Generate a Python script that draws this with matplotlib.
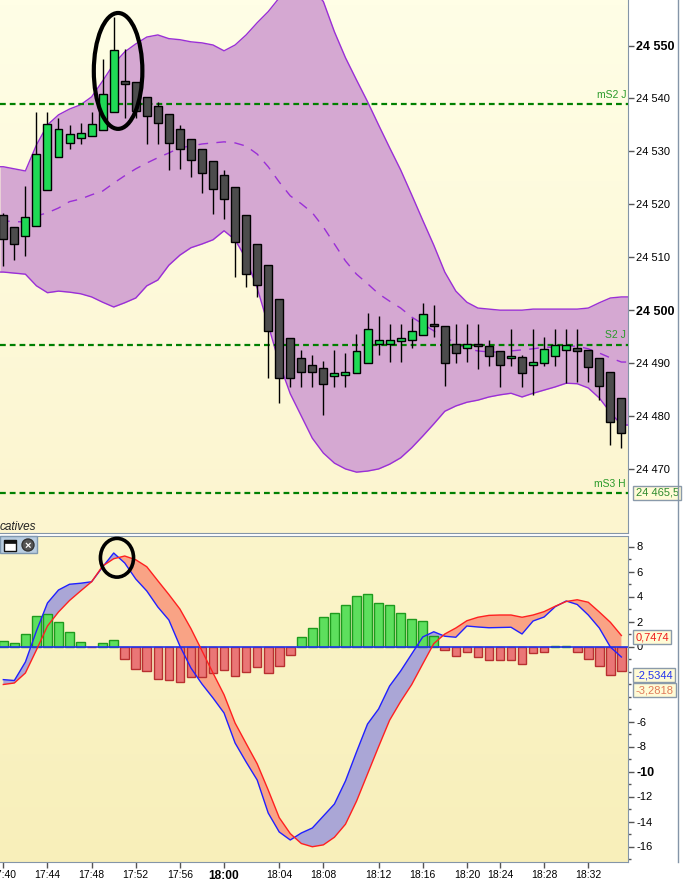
import numpy as np
import matplotlib.pyplot as plt
from matplotlib.patches import Ellipse, Rectangle
from matplotlib.lines import Line2D
from matplotlib.colors import LinearSegmentedColormap

plt.rcParams['font.family'] = ['Liberation Sans', 'DejaVu Sans']
plt.rcParams['axes.unicode_minus'] = False

# Bougies (une par position sur l'axe)
ouverture = [24518.0, 24515.7, 24514.0, 24515.9, 24522.7, 24528.9, 24531.5, 24532.5, 24532.9, 24534.0,
             24537.4, 24543.3, 24543.1, 24540.2, 24538.5, 24537.0, 24534.2, 24532.3, 24530.4, 24528.1,
             24525.5, 24523.2, 24517.9, 24512.5, 24508.5, 24502.2, 24494.7, 24490.9, 24489.6, 24489.0,
             24487.5, 24487.7, 24488.1, 24490.1, 24493.6, 24493.7, 24494.1, 24494.3, 24495.3, 24497.1,
             24497.1, 24493.6, 24492.8, 24493.3, 24493.2, 24492.2, 24490.9, 24491.1, 24489.6, 24490.0,
             24491.3, 24492.4, 24492.8, 24492.4, 24490.9, 24488.3, 24483.5]
haut = [24518.4, 24515.7, 24523.5, 24537.4, 24537.4, 24536.3, 24535.0, 24535.3, 24537.4, 24547.4,
        24555.4, 24549.3, 24543.1, 24540.2, 24539.4, 24537.0, 24535.0, 24532.3, 24530.4, 24528.1,
        24526.5, 24523.2, 24517.9, 24512.5, 24508.5, 24502.2, 24494.7, 24492.4, 24491.5, 24490.4,
        24492.5, 24491.9, 24495.5, 24499.5, 24498.9, 24497.4, 24497.4, 24498.5, 24501.4, 24501.0,
        24497.1, 24497.4, 24497.4, 24497.4, 24494.3, 24492.2, 24496.4, 24491.5, 24496.4, 24494.9,
        24496.4, 24496.4, 24496.4, 24492.4, 24490.9, 24488.3, 24483.5]
bas = [24508.4, 24509.4, 24510.2, 24515.9, 24522.7, 24528.9, 24530.4, 24531.4, 24532.9, 24534.0,
       24537.4, 24536.3, 24536.3, 24531.4, 24531.4, 24526.4, 24526.7, 24525.2, 24522.2, 24518.2,
       24517.3, 24506.3, 24504.3, 24502.4, 24487.2, 24482.4, 24485.4, 24485.4, 24485.4, 24480.2,
       24485.4, 24485.4, 24488.1, 24490.1, 24491.5, 24490.3, 24490.3, 24492.8, 24495.3, 24494.9,
       24485.7, 24490.0, 24490.3, 24488.8, 24489.4, 24485.4, 24489.4, 24485.4, 24483.9, 24489.4,
       24489.4, 24486.2, 24486.4, 24486.4, 24483.0, 24474.5, 24473.9]
cloture = [24513.5, 24512.5, 24517.6, 24529.5, 24535.1, 24534.2, 24533.3, 24533.4, 24535.1, 24540.8,
           24549.1, 24542.7, 24537.6, 24536.7, 24535.3, 24531.5, 24530.4, 24528.3, 24525.9, 24522.9,
           24521.0, 24512.8, 24506.8, 24504.7, 24496.0, 24487.1, 24487.1, 24488.4, 24488.4, 24486.0,
           24488.1, 24488.4, 24492.2, 24496.4, 24494.3, 24494.3, 24494.7, 24496.0, 24499.2, 24497.1,
           24490.0, 24492.0, 24493.7, 24493.3, 24491.3, 24489.6, 24491.3, 24488.1, 24490.3, 24492.6,
           24493.4, 24493.4, 24492.2, 24489.2, 24485.6, 24478.8, 24476.7]

# Bandes de Bollinger
boll_haut = [24527.1, 24526.7, 24526.3, 24531.2, 24535.0, 24536.9, 24538.0, 24538.8, 24540.3, 24543.3,
             24546.5, 24548.8, 24550.3, 24551.6, 24552.0, 24551.3, 24551.1, 24550.7, 24550.5, 24550.1,
             24549.0, 24550.1, 24552.0, 24554.3, 24556.4, 24559.0, 24561.5, 24562.8, 24560.9, 24558.3,
             24552.6, 24547.7, 24543.5, 24539.4, 24535.0, 24530.7, 24526.5, 24521.8, 24517.0, 24512.3,
             24507.2, 24503.6, 24501.5, 24500.4, 24500.2, 24500.0, 24500.0, 24500.0, 24500.2, 24500.2,
             24500.2, 24500.2, 24500.2, 24500.4, 24501.4, 24502.3, 24502.5]
boll_milieu = [24516.9, 24516.7, 24516.7, 24517.8, 24518.4, 24519.3, 24520.5, 24521.0, 24521.8, 24522.5,
               24524.0, 24525.4, 24526.7, 24527.8, 24528.8, 24529.7, 24530.7, 24531.0, 24531.4, 24531.6,
               24531.8, 24531.6, 24531.0, 24529.5, 24527.1, 24524.2, 24521.6, 24520.1, 24518.4, 24515.7,
               24512.5, 24509.3, 24506.8, 24505.0, 24503.1, 24501.7, 24500.4, 24498.7, 24497.4, 24496.1,
               24494.9, 24493.8, 24492.7, 24492.3, 24492.1, 24492.1, 24492.3, 24492.5, 24492.7, 24493.0,
               24493.0, 24493.2, 24493.2, 24492.7, 24491.9, 24491.0, 24490.2]
boll_bas = [24507.2, 24507.0, 24506.8, 24504.6, 24503.3, 24503.6, 24503.4, 24503.1, 24502.5, 24501.5,
            24500.6, 24501.4, 24502.3, 24504.6, 24505.7, 24508.5, 24510.4, 24511.8, 24512.5, 24513.3,
            24515.0, 24513.3, 24509.7, 24504.2, 24497.2, 24490.0, 24484.2, 24480.0, 24475.8, 24473.0,
            24471.1, 24470.0, 24469.4, 24469.6, 24470.0, 24470.9, 24472.1, 24474.0, 24476.2, 24478.5,
            24480.9, 24481.9, 24482.6, 24483.0, 24483.6, 24484.0, 24484.3, 24483.6, 24484.3, 24484.9,
            24485.5, 24486.2, 24486.1, 24485.3, 24483.4, 24480.7, 24478.3]

# MACD, signal et histogramme
macd = [-2.65, -2.72, -1.24, 1.24, 3.48, 4.52, 4.98, 5.06, 5.18, 6.36,
        7.48, 6.68, 5.40, 4.44, 3.16, 2.12, 0.04, -1.72, -3.0, -4.12,
        -5.32, -7.72, -9.24, -10.68, -13.32, -14.84, -15.48, -14.92, -14.52, -13.56,
        -12.6, -10.76, -8.44, -6.2, -5.0, -3.16, -1.96, -0.6, 0.76, 1.18,
        0.82, 0.74, 1.64, 1.56, 1.50, 1.52, 1.54, 1.0, 2.04, 2.36,
        3.18, 3.64, 3.36, 2.52, 1.48, -0.04, -0.84]
signal = [-3.04, -2.92, -2.12, -0.28, 1.64, 2.76, 3.68, 4.44, 5.18, 6.44,
          7.02, 7.24, 6.94, 6.38, 5.26, 4.16, 3.0, 1.43, -0.34, -2.12,
          -3.86, -6.12, -7.76, -9.38, -11.48, -13.69, -14.97, -15.76, -16.02, -15.87,
          -15.26, -14.22, -12.38, -10.2, -8.02, -5.90, -4.4, -3.05, -1.4, 0.23,
          1.0, 1.48, 2.06, 2.34, 2.49, 2.52, 2.52, 2.34, 2.52, 2.79,
          3.22, 3.6, 3.74, 3.54, 2.76, 1.94, 0.88]
histo = [0.48, 0.32, 1.04, 2.45, 2.64, 2.0, 1.2, 0.4, -0.05, 0.32,
         0.56, -0.96, -1.76, -1.92, -2.56, -2.64, -2.8, -2.4, -2.4, -2.08,
         -1.84, -2.32, -2.0, -1.6, -2.08, -1.52, -0.64, 0.8, 1.52, 2.4,
         2.72, 3.36, 4.08, 4.24, 3.52, 3.36, 2.72, 2.24, 2.08, 0.88,
         -0.24, -0.72, -0.4, -0.8, -1.04, -1.04, -1.04, -1.36, -0.48, -0.4,
         0.08, 0.08, -0.4, -0.96, -1.52, -2.24, -1.92]

# Niveaux horizontaux
niveaux_noms = ['mS2 J', 'S2 J', 'mS3 H']
niveaux_prix = [24539.0, 24493.5, 24465.5]

# Axe du temps
pos_heures = [0, 4, 8, 12, 16, 20, 25, 29, 34, 38, 42, 45, 49, 53]
heures = ['17:40', '17:44', '17:48', '17:52', '17:56', '18:00', '18:04', '18:08',
          '18:12', '18:16', '18:20', '18:24', '18:28', '18:32']

# Dernières valeurs affichées à droite de l'indicateur
val_signal = 0.7474
val_macd = -2.5344
val_histo = -3.2818

x = np.arange(len(ouverture))
o = np.array(ouverture)
c = np.array(cloture)
xmin, xmax = -0.3, 56.6

W, H = 683, 883
def fx(p):
    return p / W
def fy(p):
    return 1 - p / H

fig = plt.figure(figsize=(6.83, 8.83), dpi=100)
fig.patch.set_facecolor('white')

ax = fig.add_axes([0, fy(533), fx(628), 533 / H])
ax2 = fig.add_axes([0, fy(862), fx(628), (862 - 536) / H])

def fond(a, haut_c, bas_c):
    cmap = LinearSegmentedColormap.from_list('f', [bas_c, haut_c])
    a.imshow(np.linspace(0, 1, 100).reshape(-1, 1), cmap=cmap, origin='lower', aspect='auto',
             extent=[0, 1, 0, 1], transform=a.transAxes, zorder=0)

# prolonge les bandes jusqu'aux bords du panneau (valeur du bord)
def bord(v):
    return np.r_[v[0], v, v[-1]]
xb = np.r_[xmin, x, xmax]

gris = '#8495a8'

# ---------- Panneau des prix ----------
fond(ax, '#fffee6', '#fcf5cf')
ax.fill_between(xb, bord(boll_bas), bord(boll_haut), color='#d5a8d2', lw=0, zorder=1)
ax.plot(xb, bord(boll_haut), color='#9a2fd6', lw=1.0, zorder=2)
ax.plot(xb, bord(boll_bas), color='#9a2fd6', lw=1.0, zorder=2)
ax.plot(xb, bord(boll_milieu), color='#9a2fd6', lw=1.0, ls=(0, (7, 6)), zorder=2)

for nom, p in zip(niveaux_noms, niveaux_prix):
    ax.axhline(p, color='#008000', lw=1.6, ls=(0, (2.6, 1.8)), zorder=3)
    ax.text(0.997, p + 0.8, nom, transform=ax.get_yaxis_transform(), ha='right', va='bottom',
            fontsize=7.5, color='#2a9a2a', zorder=6)

ax.vlines(x, bas, haut, color='black', lw=1, zorder=4)
hauteur = np.where(np.abs(c - o) < 0.2, 0.35, c - o)
couleurs = np.where(c > o, '#1fda55', '#4c4c4c')
ax.bar(x, hauteur, bottom=o, width=0.72, color=couleurs, edgecolor='black', lw=1, zorder=5)

ax.add_patch(Ellipse((10.4, 24545.2), 4.4, 21.9, fill=False, ec='black', lw=3, zorder=7))

ax.set_xlim(xmin, xmax)
ax.set_ylim(24457.9, 24558.6)
ax.set_xticks([])
ax.yaxis.tick_right()
ax.set_yticks(np.arange(24470, 24551, 10))
ax.set_yticklabels([f'{v:,}'.replace(',', ' ') for v in range(24470, 24551, 10)])
ax.tick_params(axis='y', direction='out', length=4, width=1, color='#555555', labelsize=8, pad=2)
for lab, v in zip(ax.get_yticklabels(), range(24470, 24551, 10)):
    if v % 50 == 0:
        lab.set_fontweight('bold')
        lab.set_fontsize(9)
for s in ['left', 'top']:
    ax.spines[s].set_visible(False)
for s in ['right', 'bottom']:
    ax.spines[s].set_color(gris)

ax.text(1.012, niveaux_prix[2], '24 465,5', transform=ax.get_yaxis_transform(), ha='left',
        va='center', fontsize=8, color='#2e8b2e',
        bbox=dict(boxstyle='square,pad=0.2', fc='#fffbd6', ec='#8a9aaa', lw=1), clip_on=False)

# ---------- Panneau MACD ----------
fond(ax2, '#fbf5ca', '#f8efba')
m = np.array(macd)
s = np.array(signal)
ax2.fill_between(x, m, s, where=m >= s, interpolate=True, color='#aaa6d6', lw=0, zorder=1)
ax2.fill_between(x, m, s, where=m < s, interpolate=True, color='#f9a385', lw=0, zorder=1)
h = np.array(histo)
ax2.bar(x, h, width=0.78, color=np.where(h >= 0, '#5ddf5d', '#ea7676'),
        edgecolor=np.where(h >= 0, '#1e9a1e', '#b83030'), lw=1, zorder=2)
ax2.axhline(0, color='#2233ee', lw=1.2, zorder=3)
ax2.plot(x, m, color='#2020ff', lw=1, zorder=4)
ax2.plot(x, s, color='#ff2020', lw=1, zorder=4)
ax2.add_patch(Ellipse((10.3, 7.1), 3.0, 3.1, fill=False, ec='black', lw=2.6, zorder=6))

ax2.set_xlim(xmin, xmax)
ax2.set_ylim(-17.24, 8.84)
ax2.yaxis.tick_right()
graduations = [8, 6, 4, 2, 0, -6, -8, -10, -12, -14, -16]
ax2.set_yticks(graduations)
ax2.set_yticklabels([str(v) for v in graduations])
ax2.set_yticks(np.arange(-17, 9, 1), minor=True)
ax2.tick_params(axis='y', which='major', direction='out', length=4, width=1, color='#555555',
                labelsize=8, pad=2)
ax2.tick_params(axis='y', which='minor', direction='out', length=2.5, width=1, color='#555555')
for lab, v in zip(ax2.get_yticklabels(), graduations):
    if v == -10:
        lab.set_fontweight('bold')
        lab.set_fontsize(9)
ax2.set_xticks(pos_heures)
ax2.set_xticklabels(heures)
ax2.tick_params(axis='x', direction='out', length=4, width=1, color='#555555', labelsize=7.5, pad=2)
for lab, t in zip(ax2.get_xticklabels(), heures):
    if t == '18:00':
        lab.set_fontweight('bold')
        lab.set_fontsize(8.6)
ax2.spines['left'].set_visible(False)
for sp in ['right', 'bottom', 'top']:
    ax2.spines[sp].set_color(gris)

boite = dict(boxstyle='square,pad=0.2', fc='#fffbd6', ec='#8a9aaa', lw=1)
ytr = ax2.get_yaxis_transform()
ax2.text(1.012, val_signal, f'{val_signal:.4f}'.replace('.', ','), transform=ytr, ha='left',
         va='center', fontsize=8, color='#ee1c1c', bbox=boite, clip_on=False)
ax2.text(1.012, val_macd + 0.25, f'{val_macd:.4f}'.replace('.', ','), transform=ytr, ha='left',
         va='center', fontsize=8, color='#2233ee', bbox=boite, clip_on=False)
ax2.text(1.012, val_histo - 0.2, f'{val_histo:.4f}'.replace('.', ','), transform=ytr, ha='left',
         va='center', fontsize=8, color='#e07a5a', bbox=boite, clip_on=False)

# ---------- Décor de la fenêtre ----------
fig.add_artist(Line2D([fx(678), fx(678)], [fy(862), 1], color=gris, lw=1))
fig.text(fx(0), fy(527), 'catives', style='italic', fontsize=8.5, color='#222222', va='center')
fig.add_artist(Rectangle((fx(0), fy(553)), fx(37), 17 / H, transform=fig.transFigure,
                         fc='#b9cde0', ec='#7f98b0', lw=1, zorder=10))
fig.add_artist(Rectangle((fx(4), fy(551)), fx(12), 11 / H, transform=fig.transFigure,
                         fc='white', ec='#111111', lw=1, zorder=11))
fig.add_artist(Rectangle((fx(4), fy(543)), fx(12), 3 / H, transform=fig.transFigure,
                         fc='#111111', ec='#111111', lw=0.5, zorder=12))
fig.add_artist(Ellipse((fx(28), fy(545)), fx(12), 12 / H, transform=fig.transFigure,
                       fc='#555555', ec='#333333', lw=1, zorder=11))
fig.text(fx(28), fy(545.5), '×', ha='center', va='center', fontsize=8, color='white',
         fontweight='bold', zorder=12)

fig.savefig('out.png', dpi=100)
